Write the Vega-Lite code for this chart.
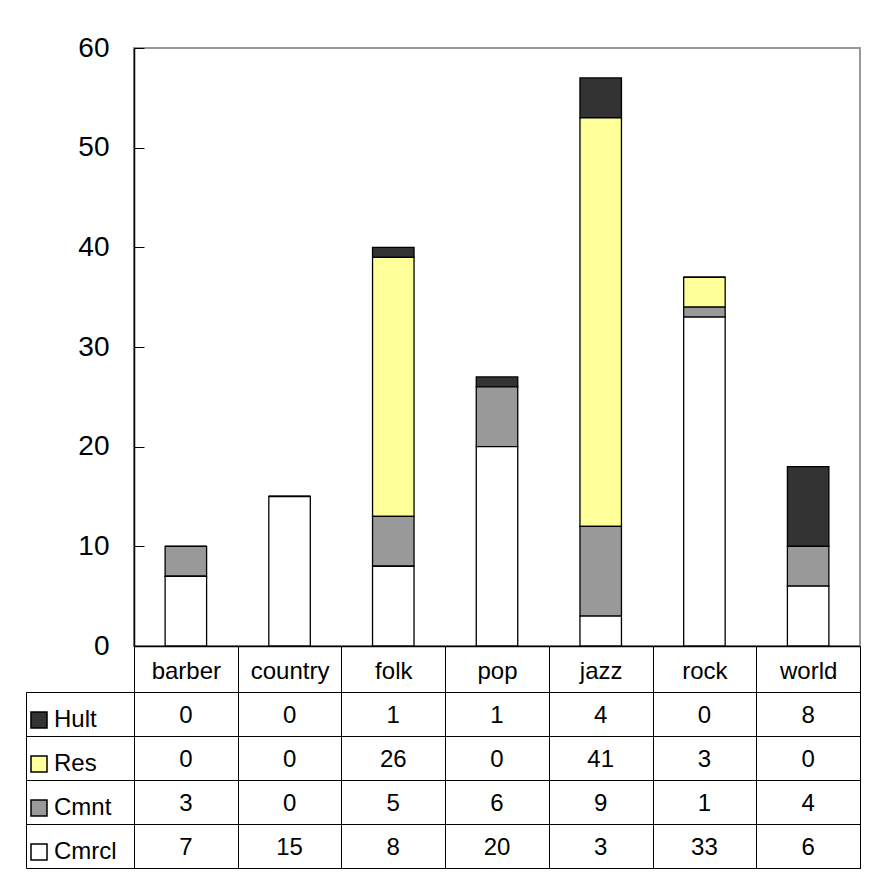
{
  "$schema": "https://vega.github.io/schema/vega-lite/v6.json",
  "padding": {"left": 25, "top": 33, "right": 5, "bottom": 5},
  "background": "white",
  "config": {"font": "Liberation Sans", "view": {"stroke": null}},
  "datasets": {
    "music": [
      {"genre": "barber", "series": "Hult", "value": 0},
      {"genre": "barber", "series": "Res", "value": 0},
      {"genre": "barber", "series": "Cmnt", "value": 3},
      {"genre": "barber", "series": "Cmrcl", "value": 7},
      {"genre": "country", "series": "Hult", "value": 0},
      {"genre": "country", "series": "Res", "value": 0},
      {"genre": "country", "series": "Cmnt", "value": 0},
      {"genre": "country", "series": "Cmrcl", "value": 15},
      {"genre": "folk", "series": "Hult", "value": 1},
      {"genre": "folk", "series": "Res", "value": 26},
      {"genre": "folk", "series": "Cmnt", "value": 5},
      {"genre": "folk", "series": "Cmrcl", "value": 8},
      {"genre": "pop", "series": "Hult", "value": 1},
      {"genre": "pop", "series": "Res", "value": 0},
      {"genre": "pop", "series": "Cmnt", "value": 6},
      {"genre": "pop", "series": "Cmrcl", "value": 20},
      {"genre": "jazz", "series": "Hult", "value": 4},
      {"genre": "jazz", "series": "Res", "value": 41},
      {"genre": "jazz", "series": "Cmnt", "value": 9},
      {"genre": "jazz", "series": "Cmrcl", "value": 3},
      {"genre": "rock", "series": "Hult", "value": 0},
      {"genre": "rock", "series": "Res", "value": 3},
      {"genre": "rock", "series": "Cmnt", "value": 1},
      {"genre": "rock", "series": "Cmrcl", "value": 33},
      {"genre": "world", "series": "Hult", "value": 8},
      {"genre": "world", "series": "Res", "value": 0},
      {"genre": "world", "series": "Cmnt", "value": 4},
      {"genre": "world", "series": "Cmrcl", "value": 6}
    ],
    "seriesOrder": [
      {"series": "Cmrcl", "stackRank": 1},
      {"series": "Cmnt", "stackRank": 2},
      {"series": "Res", "stackRank": 3},
      {"series": "Hult", "stackRank": 4}
    ]
  },
  "bounds": "flush",
  "spacing": 46,
  "resolve": {"scale": {"x": "independent", "y": "independent", "color": "independent"}},
  "vconcat": [
    {
      "width": 726,
      "height": 598,
      "data": {"name": "music"},
      "transform": [
        {"lookup": "series", "from": {"data": {"name": "seriesOrder"}, "key": "series", "fields": ["stackRank"]}}
      ],
      "view": {"stroke": "#999999", "strokeWidth": 2},
      "mark": {"type": "bar", "stroke": "black", "strokeWidth": 1.3},
      "encoding": {
        "x": {
          "field": "genre", "type": "nominal",
          "sort": ["barber", "country", "folk", "pop", "jazz", "rock", "world"],
          "scale": {"paddingInner": 0.6, "paddingOuter": 0.3},
          "axis": {"title": null, "labels": false, "ticks": false, "grid": false, "domainColor": "black", "domainWidth": 1.5}
        },
        "y": {
          "field": "value", "type": "quantitative", "stack": "zero",
          "scale": {"domain": [0, 60], "nice": false},
          "axis": {"title": null, "values": [0, 10, 20, 30, 40, 50, 60], "grid": false, "domainColor": "black", "domainWidth": 1.5, "tickColor": "black", "tickSize": -10, "tickWidth": 1, "labelPadding": 35, "labelFontSize": 28, "labelColor": "black"}
        },
        "color": {
          "field": "series", "type": "nominal",
          "scale": {"domain": ["Cmrcl", "Cmnt", "Res", "Hult"], "range": ["#ffffff", "#999999", "#ffff99", "#333333"]},
          "legend": null
        },
        "order": {"field": "stackRank", "type": "quantitative", "sort": "ascending"}
      }
    },
    {
      "width": 726,
      "height": 176,
      "data": {"name": "music"},
      "view": {"stroke": "black", "strokeWidth": 1},
      "encoding": {
        "x": {
          "field": "genre", "type": "nominal",
          "sort": ["barber", "country", "folk", "pop", "jazz", "rock", "world"],
          "scale": {"paddingInner": 0, "paddingOuter": 0},
          "axis": {"orient": "top", "title": null, "tickBand": "extent", "tickSize": 46, "tickColor": "black", "labelPadding": -25, "labelBaseline": "middle", "labelAngle": 0, "labelFontSize": 24, "labelColor": "black", "domain": false, "grid": true, "gridColor": "black", "gridOpacity": 1}
        },
        "y": {
          "field": "series", "type": "nominal",
          "sort": ["Hult", "Res", "Cmnt", "Cmrcl"],
          "scale": {"paddingInner": 0, "paddingOuter": 0},
          "axis": {"title": null, "labels": false, "offset": 108, "tickBand": "extent", "tickSize": -108, "tickColor": "black", "domainColor": "black", "grid": true, "gridColor": "black", "gridOpacity": 1}
        }
      },
      "layer": [
        {
          "mark": {"type": "text", "fontSize": 24, "color": "black", "baseline": "middle", "dy": 2},
          "encoding": {"text": {"field": "value", "type": "quantitative"}}
        },
        {
          "mark": {"type": "square", "opacity": 0},
          "encoding": {
            "color": {
              "field": "series", "type": "nominal",
              "scale": {"domain": ["Hult", "Res", "Cmnt", "Cmrcl"], "range": ["#333333", "#ffff99", "#999999", "#ffffff"]},
              "legend": {
                "orient": "none", "legendX": -107, "legendY": 16, "title": null,
                "symbolType": "square", "symbolSize": 256, "symbolStrokeColor": "black", "symbolStrokeWidth": 1.5, "symbolOpacity": 1,
                "labelFontSize": 24, "labelColor": "black", "labelOffset": 3, "rowPadding": 20, "padding": 0,
                "encode": {"symbols": {"update": {"opacity": {"value": 1}, "fillOpacity": {"value": 1}, "stroke": {"value": "black"}, "strokeWidth": {"value": 1.5}}}}
              }
            }
          }
        }
      ]
    }
  ]
}
